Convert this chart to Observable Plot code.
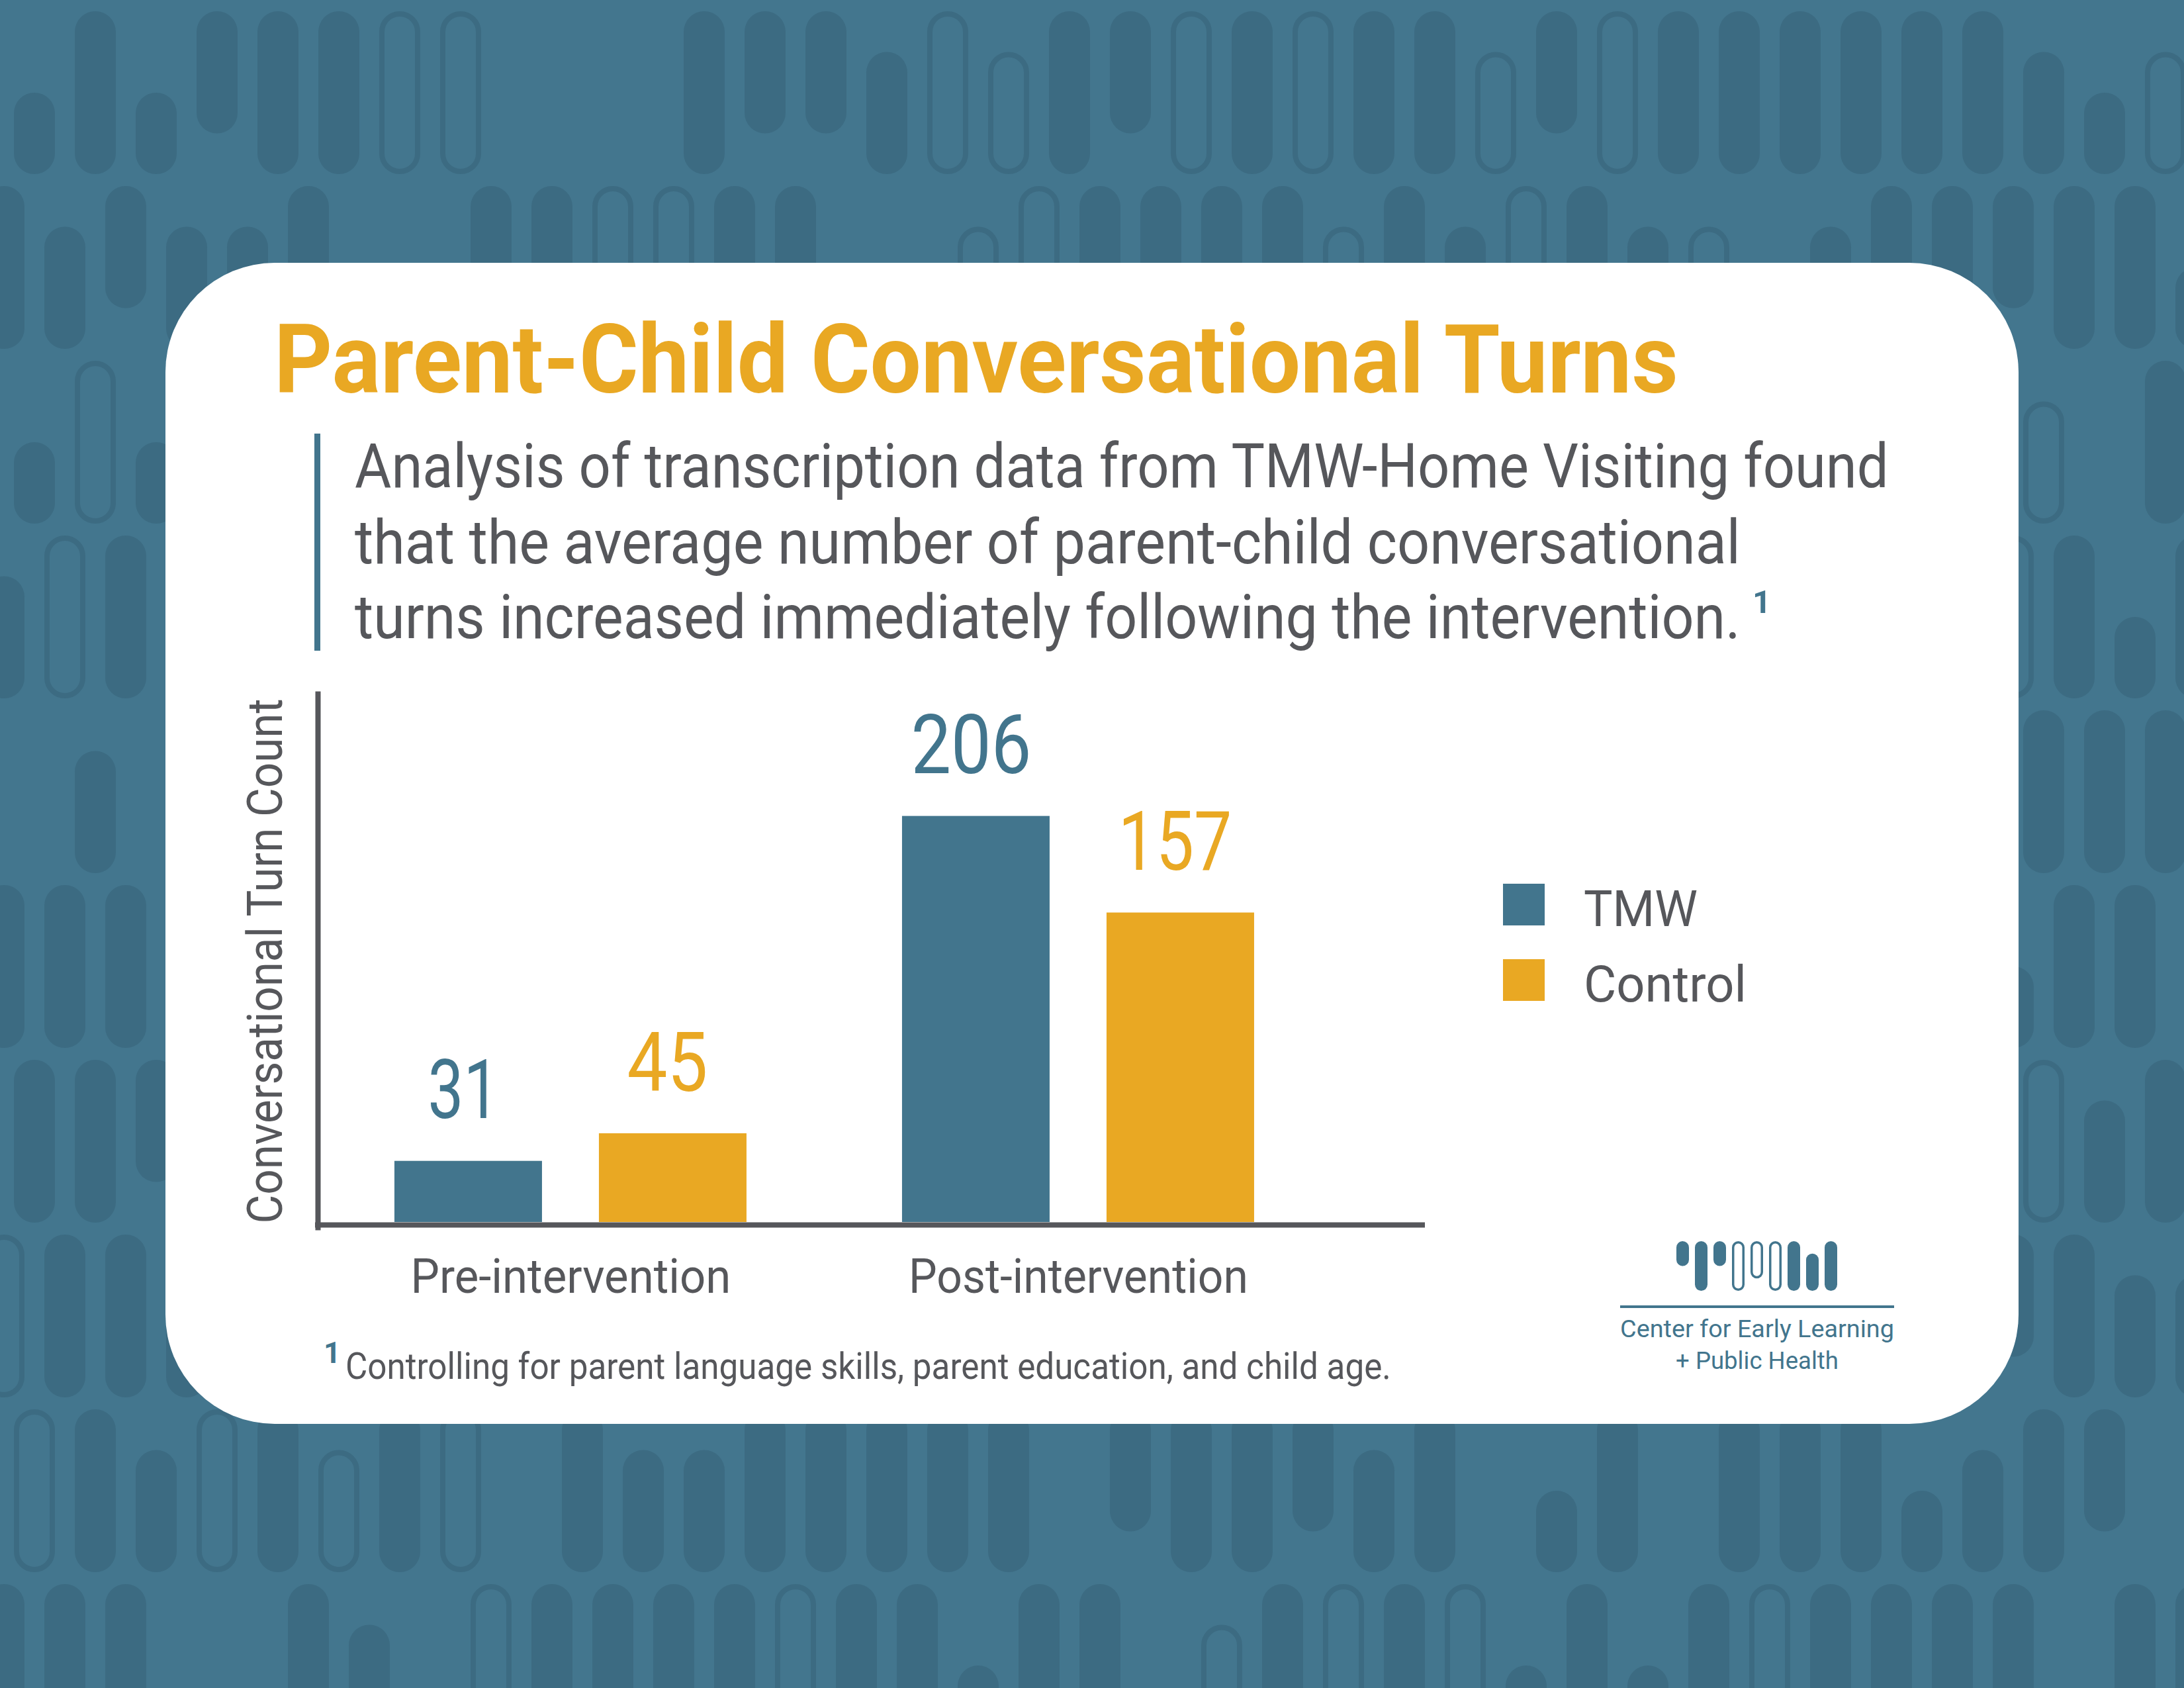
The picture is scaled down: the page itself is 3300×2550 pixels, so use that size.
<!DOCTYPE html>
<html>
<head>
<meta charset="utf-8">
<script src="https://cdn.jsdelivr.net/npm/d3@7"></script>
<script src="https://cdn.jsdelivr.net/npm/@observablehq/plot@0.6"></script>
<style>
  html, body { margin: 0; padding: 0; background: #43768E; }
  #page { position: relative; width: 3300px; height: 2550px; overflow: hidden; font-family: Roboto, "Open Sans", sans-serif; }
  #decor { position: absolute; left: 0; top: 0; }
  #chart { position: absolute; left: 300px; top: 1000px; }
</style>
</head>
<body>
<div id="page">
  <svg id="decor" width="3300" height="2550"></svg>
  <div id="chart"></div>
</div>
<script>
// ---------------- DATA ----------------
const phases = ["Pre-intervention", "Post-intervention"];
const series = ["TMW", "Control"];
const tmwValues = [31, 206];
const controlValues = [45, 157];
const seriesColors = ["#42758D", "#E9A823"];

const titleText = "Parent-Child Conversational Turns";
const subtitleLines = [
  "Analysis of transcription data from TMW-Home Visiting found",
  "that the average number of parent-child conversational",
  "turns increased immediately following the intervention."
];
const footnoteMark = "1";
const footnoteText = "Controlling for parent language skills, parent education, and child age.";
const yLabel = "Conversational Turn Count";
const logoLines = ["Center for Early Learning", "+ Public Health"];

// ---------------- STYLE ----------------
const gray = "#56575B";
const blue = seriesColors[0];
const gold = seriesColors[1];
const bgColor = "#43768E";
const pillColor = "#3C6B82";

// ---------------- DECOR (background, card, texts, legend, logo) ----------------
const decor = d3.select("#decor");
decor.append("rect").attr("width", 3300).attr("height", 2550).attr("fill", bgColor);

function hash(r, c) {
  let x = Math.imul(r + 11, 374761393) ^ Math.imul(c + 7, 668265263);
  x = Math.imul(x ^ (x >>> 13), 1274126177);
  x ^= x >>> 16;
  return x >>> 0;
}
const pat = decor.append("g");
const rowH = 264, pillH = 246, pillW = 62, colStep = 92;
for (let r = 0; r < 10; r++) {
  const y0 = 17 + r * rowH;
  const xOff = r % 2 === 0 ? 21 : -25;
  for (let c = -1; c < 37; c++) {
    const x0 = xOff + c * colStep;
    const t = hash(r, c) % 10;
    let y = y0, h = pillH, outline = false;
    if (t === 9) continue;
    if (t === 4) { h = pillH * 0.75; }
    else if (t === 5) { h = pillH * 0.5; y = y0 + pillH - h; }
    else if (t === 6) { outline = true; }
    else if (t === 7) { outline = true; h = pillH * 0.75; y = y0 + pillH - h; }
    else if (t === 8) { h = pillH * 0.75; y = y0 + pillH - h; }
    if (outline) {
      pat.append("rect").attr("x", x0 + 4).attr("y", y + 4).attr("width", pillW - 8).attr("height", h - 8)
        .attr("rx", (pillW - 8) / 2).attr("fill", "none").attr("stroke", pillColor).attr("stroke-width", 8);
    } else {
      pat.append("rect").attr("x", x0).attr("y", y).attr("width", pillW).attr("height", h)
        .attr("rx", pillW / 2).attr("fill", pillColor);
    }
  }
}

// white card
decor.append("rect").attr("x", 250).attr("y", 397).attr("width", 2800).attr("height", 1754)
  .attr("rx", 165).attr("fill", "#FFFFFF");

// text placed at (x, y) baseline, horizontally condensed to a target width via transform
function addText(g, s, o) {
  const t = g.append("text").text(s)
    .attr("x", 0).attr("y", 0)
    .attr("font-family", "Roboto, 'Open Sans', sans-serif")
    .attr("font-size", o.size).attr("font-weight", o.weight || 400)
    .attr("fill", o.fill || gray)
    .attr("text-anchor", o.anchor || "start");
  let sx = 1;
  if (o.len) {
    const natural = t.node().getComputedTextLength();
    if (natural > 0) sx = o.len / natural;
  }
  t.attr("transform", `translate(${o.x},${o.y}) scale(${sx},1)`);
  return t;
}

// title
addText(decor, titleText, {x: 414, y: 593, size: 145, weight: 700, fill: gold, len: 2122});
// subtitle with left bar
decor.append("rect").attr("x", 475).attr("y", 655).attr("width", 9).attr("height", 328).attr("fill", blue);
const subLens = [2318, 2094, 2094];
const subY = [736, 851, 964];
subtitleLines.forEach((s, i) => addText(decor, s, {x: 536, y: subY[i], size: 93, len: subLens[i]}));
addText(decor, footnoteMark, {x: 2648, y: 926, size: 49, weight: 700, fill: blue});

// legend
series.forEach((s, i) => {
  decor.append("rect").attr("x", 2271).attr("y", 1335 + i * 114).attr("width", 63).attr("height", 63)
    .attr("fill", seriesColors[i]);
  addText(decor, s, {x: 2393, y: 1399 + i * 114, size: 76, len: [172, 246][i]});
});

// footnote
addText(decor, footnoteMark, {x: 489, y: 2059, size: 45, weight: 700, fill: blue});
addText(decor, footnoteText, {x: 522, y: 2083, size: 55, len: 1580});

// logo
const logoPills = [
  ["fill", "top", 0.5], ["fill", "full", 1], ["fill", "top", 0.5], ["line", "full", 1],
  ["line", "top", 0.75], ["line", "full", 1], ["fill", "full", 1], ["fill", "bottom", 0.75], ["fill", "full", 1]
];
const logo = decor.append("g");
logoPills.forEach(([kind, anchor, frac], i) => {
  const x = 2533 + i * 28, fullH = 75, top = 1875, w = 19;
  const h = fullH * frac;
  const y = anchor === "bottom" ? top + fullH - h : top;
  if (kind === "fill") {
    logo.append("rect").attr("x", x).attr("y", y).attr("width", w).attr("height", h).attr("rx", w / 2).attr("fill", blue);
  } else {
    logo.append("rect").attr("x", x + 1.75).attr("y", y + 1.75).attr("width", w - 3.5).attr("height", h - 3.5)
      .attr("rx", (w - 3.5) / 2).attr("fill", "none").attr("stroke", blue).attr("stroke-width", 3.5);
  }
});
logo.append("rect").attr("x", 2448).attr("y", 1972).attr("width", 414).attr("height", 4).attr("fill", blue);
addText(logo, logoLines[0], {x: 2655, y: 2020, size: 37, fill: blue, anchor: "middle", len: 414});
addText(logo, logoLines[1], {x: 2655, y: 2068, size: 37, fill: blue, anchor: "middle", len: 246});

// ---------------- CHART (Observable Plot) ----------------
const rows = phases.flatMap((p, i) => [
  {phase: p, series: series[0], value: tmwValues[i]},
  {phase: p, series: series[1], value: controlValues[i]}
]);
const tmwRows = rows.filter(d => d.series === series[0]);
const ctlRows = rows.filter(d => d.series === series[1]);

const chart = Plot.plot({
  width: 1900,
  height: 1000,
  marginLeft: 180,
  marginRight: 47,
  marginTop: 48,
  marginBottom: 154,
  style: {background: "transparent", fontFamily: "Roboto, 'Open Sans', sans-serif", overflow: "visible"},
  x: {domain: phases, paddingInner: 0.3064, paddingOuter: 0.2438, align: 0.31, round: false, axis: null},
  y: {domain: [0, 268], axis: null},
  color: {domain: series, range: seriesColors},
  marks: [
    Plot.barY(tmwRows, {x: "phase", y: "value", fill: "series", insetRight: 309}),
    Plot.barY(ctlRows, {x: "phase", y: "value", fill: "series", insetLeft: 309}),
    Plot.ruleY([0], {stroke: gray, strokeWidth: 8, dy: 4, insetLeft: -4}),
    Plot.frame({anchor: "left", stroke: gray, strokeWidth: 8, insetBottom: -8}),
    Plot.text(tmwRows, {x: "phase", y: "value", text: d => String(d.value), fill: "series",
      dx: -162, dy: -65, lineAnchor: "bottom", fontSize: 124}),
    Plot.text(ctlRows, {x: "phase", y: "value", text: d => String(d.value), fill: "series",
      dx: 146, dy: -65, lineAnchor: "bottom", fontSize: 124}),
    Plot.text(phases, {x: d => d, frameAnchor: "bottom", lineAnchor: "top", dy: 55, fontSize: 72, fill: gray}),
    Plot.text([yLabel], {frameAnchor: "bottom-left", rotate: -90, textAnchor: "start", dx: -55, dy: 2, fontSize: 74, fill: gray})
  ]
});
document.getElementById("chart").appendChild(chart);

// condense Plot texts toward the narrow DIN-like look of the original
const fitWidths = {
  "206": 182, "157": 172, "31": 108, "45": 122,
  "Pre-intervention": 484, "Post-intervention": 513,
  "Conversational Turn Count": 793
};
d3.select(chart).selectAll("text").each(function () {
  const w = fitWidths[this.textContent];
  if (w) { this.setAttribute("textLength", w); this.setAttribute("lengthAdjust", "spacingAndGlyphs"); }
});
</script>
</body>
</html>
